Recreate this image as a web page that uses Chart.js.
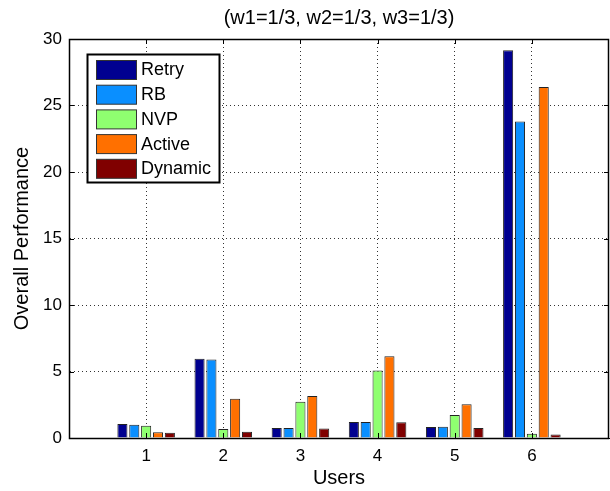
<!DOCTYPE html>
<html>
<head>
<meta charset="utf-8">
<script src="https://cdn.jsdelivr.net/npm/chart.js@4/dist/chart.umd.min.js"></script>
<style>
  html, body { margin: 0; padding: 0; background: #fff; }
  #wrap { width: 610px; height: 491px; }
</style>
</head>
<body>
<div id="wrap"><canvas id="chart"></canvas></div>
<script>
// data
const users = [1, 2, 3, 4, 5, 6];
const retry = [1.05, 5.96, 0.75, 1.2, 0.83, 29.15];
const rb = [1.0, 5.91, 0.75, 1.2, 0.85, 23.8];
const nvp = [0.93, 0.68, 2.73, 5.07, 1.73, 0.32];
const active = [0.43, 2.95, 3.16, 6.15, 2.53, 26.4];
const dynamic = [0.4, 0.47, 0.72, 1.18, 0.75, 0.27];

const seriesNames = ['Retry', 'RB', 'NVP', 'Active', 'Dynamic'];
const seriesColors = ['#000090', '#0a8fff', '#8fff70', '#ff7000', '#800000'];
const yTicks = [0, 5, 10, 15, 20, 25, 30];

const FONT = "'Liberation Sans', Arial, Helvetica, sans-serif";

function toPoints(vals) {
  return users.map((u, i) => ({ x: u, y: vals[i] }));
}

const allSeries = [retry, rb, nvp, active, dynamic];
const datasets = allSeries.map((vals, k) => ({
  label: seriesNames[k],
  data: toPoints(vals),
  backgroundColor: seriesColors[k],
  borderColor: '#222',
  borderWidth: 1,
  categoryPercentage: 0.769,
  barPercentage: 0.85
}));

// box around plot, inward ticks and legend drawn inside the axes
const boxPlugin = {
  id: 'box',
  afterDraw(chart) {
    const { ctx, chartArea: a, scales } = chart;
    ctx.save();
    ctx.strokeStyle = '#000';
    ctx.lineWidth = 1;
    ctx.beginPath();
    // inward tick marks
    scales.y.ticks.forEach(t => {
      const y = Math.round(scales.y.getPixelForValue(t.value)) + 0.5;
      ctx.moveTo(a.left, y); ctx.lineTo(a.left + 5, y);
      ctx.moveTo(a.right, y); ctx.lineTo(a.right - 5, y);
    });
    scales.x.ticks.forEach(t => {
      const x = Math.round(scales.x.getPixelForValue(t.value)) + 0.5;
      ctx.moveTo(x, a.bottom); ctx.lineTo(x, a.bottom - 5);
      ctx.moveTo(x, a.top); ctx.lineTo(x, a.top + 5);
    });
    ctx.stroke();
    ctx.lineWidth = 1.5;
    ctx.strokeRect(Math.round(a.left) + 0.5, Math.round(a.top) + 0.5,
      Math.round(a.right - a.left) - 1, Math.round(a.bottom - a.top));

    // legend
    const lx = 87.5, ly = 54.5, lw = 132, lh = 128;
    ctx.fillStyle = '#fff';
    ctx.fillRect(lx, ly, lw, lh);
    ctx.lineWidth = 2;
    ctx.strokeStyle = '#000';
    ctx.strokeRect(lx, ly, lw, lh);
    ctx.font = '18px ' + FONT;
    ctx.textBaseline = 'middle';
    chart.data.datasets.forEach((ds, i) => {
      const sy = 60.5 + i * 24.7;
      ctx.fillStyle = ds.backgroundColor;
      ctx.fillRect(96.5, sy, 40, 19);
      ctx.lineWidth = 1;
      ctx.strokeStyle = '#333';
      ctx.strokeRect(96.5, sy, 40, 19);
      ctx.fillStyle = '#000';
      ctx.fillText(ds.label, 141, sy + 10);
    });
    ctx.restore();
  }
};

new Chart(document.getElementById('chart'), {
  type: 'bar',
  data: { datasets },
  plugins: [boxPlugin],
  options: {
    responsive: true,
    maintainAspectRatio: false,
    animation: false,
    layout: { padding: { left: 0, right: 1, top: 0, bottom: 0 } },
    plugins: {
      legend: { display: false },
      tooltip: { enabled: false },
      title: {
        display: true,
        text: '(w1=1/3, w2=1/3, w3=1/3)',
        fullSize: false,
        color: '#000',
        font: { family: FONT, size: 20, weight: 'normal' },
        padding: { top: 6, bottom: 9 }
      }
    },
    scales: {
      x: {
        type: 'linear',
        offset: false,
        min: 0,
        max: 7,
        afterBuildTicks: s => { s.ticks = users.map(v => ({ value: v })); },
        afterFit: s => { s.height = 53; },
        grid: { color: '#333', lineWidth: 1, drawTicks: false, offset: false },
        border: { display: true, color: '#000', dash: [1, 3], width: 1 },
        ticks: { color: '#000', font: { family: FONT, size: 17 }, padding: 8, maxRotation: 0 },
        title: {
          display: true, text: 'Users', color: '#000',
          font: { family: FONT, size: 20 }, padding: { top: 0, bottom: 1 }
        }
      },
      y: {
        min: 0,
        max: 30,
        afterBuildTicks: s => { s.ticks = yTicks.map(v => ({ value: v })); },
        afterFit: s => { s.width = 69; },
        grid: { color: '#333', lineWidth: 1, drawTicks: false },
        border: { display: true, color: '#000', dash: [1, 3], width: 1 },
        ticks: { color: '#000', font: { family: FONT, size: 17 }, padding: 7 },
        title: {
          display: true, text: 'Overall Performance', color: '#000',
          font: { family: FONT, size: 20 }, padding: { top: 10, bottom: 0 }
        }
      }
    }
  }
});
</script>
</body>
</html>
